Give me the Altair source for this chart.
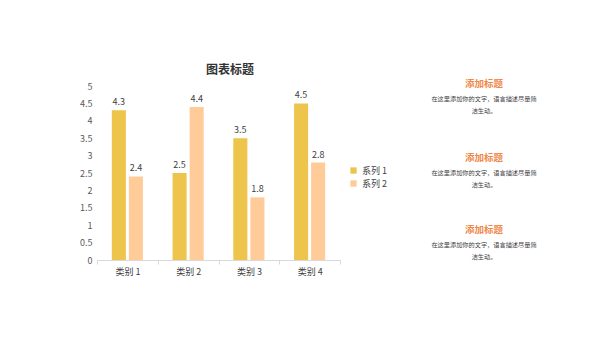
import altair as alt
import pandas as pd

categories = ["类别 1", "类别 2", "类别 3", "类别 4"]
series_names = ["系列 1", "系列 2"]
series1 = [4.3, 2.5, 3.5, 4.5]
series2 = [2.4, 4.4, 1.8, 2.8]
y_ticks = [0, 0.5, 1, 1.5, 2, 2.5, 3, 3.5, 4, 4.5, 5]
colors = ["#EDC54C", "#FFCC99"]
chart_title = "图表标题"
side_titles = ["添加标题", "添加标题", "添加标题"]
side_line1 = ["在这里添加你的文字，语言描述尽量简"] * 3
side_line2 = ["洁生动。"] * 3

rows = []
for c, a, b in zip(categories, series1, series2):
    rows.append({"cat": c, "series": series_names[0], "value": a})
    rows.append({"cat": c, "series": series_names[1], "value": b})
df = pd.DataFrame(rows)

FONT = "Noto Sans CJK SC"

x = alt.X("cat:N", sort=categories, title=None,
          scale=alt.Scale(paddingInner=0, paddingOuter=0),
          axis=alt.Axis(labelAngle=0, labelFontSize=9, labelColor="#404040",
                        domainColor="#D9D9D9", tickColor="#D9D9D9", tickSize=4,
                        tickBand="extent", labelPadding=3, labelFont=FONT))
xo = alt.XOffset("series:N", sort=series_names,
                 scale=alt.Scale(paddingInner=0.176, paddingOuter=0.868))
y = alt.Y("value:Q", title=None, scale=alt.Scale(domain=[0, 5], nice=False),
          axis=alt.Axis(values=y_ticks, labelExpr="datum.value",
                        labelOverlap=False, labelFlush=False,
                        domain=False, ticks=False, grid=False, labelFontSize=9,
                        labelColor="#595959", labelPadding=5, labelFont=FONT))

bars = alt.Chart(df).mark_bar().encode(
    x=x, xOffset=xo, y=y,
    color=alt.Color("series:N", sort=series_names,
                    scale=alt.Scale(domain=series_names, range=colors),
                    legend=alt.Legend(title=None, orient="none", legendX=252, legendY=80,
                                      symbolType="square", symbolSize=40,
                                      symbolStrokeWidth=0, labelFontSize=9,
                                      labelColor="#404040", labelFont=FONT,
                                      rowPadding=3)),
)

labels = alt.Chart(df).mark_text(dy=-8, fontSize=9, color="#404040", font=FONT).encode(
    x=x, xOffset=xo, y=y,
    text=alt.Text("value:Q", format=".1f"),
)

title_df = pd.DataFrame({"t": [chart_title]})
title = alt.Chart(title_df).mark_text(fontSize=12, fontWeight="bold", color="#333333",
                                      font=FONT).encode(
    x=alt.value(133), y=alt.value(-16), text="t:N")

side_y = [-2, 72, 144]
side_df = pd.DataFrame({"title": side_titles, "l1": side_line1, "l2": side_line2,
                        "yy": side_y})
st = alt.Chart(side_df).mark_text(fontSize=9.5, fontWeight="bold", color="#F0884A",
                                  font=FONT).encode(
    x=alt.value(387), y=alt.Y("yy:Q", scale=None, axis=None), text="title:N")
s1 = alt.Chart(side_df).mark_text(fontSize=6.2, color="#404040", font=FONT, dy=15).encode(
    x=alt.value(387), y=alt.Y("yy:Q", scale=None, axis=None), text="l1:N")
s2 = alt.Chart(side_df).mark_text(fontSize=6.2, color="#404040", font=FONT, dy=27).encode(
    x=alt.value(387), y=alt.Y("yy:Q", scale=None, axis=None), text="l2:N")

chart = alt.layer(bars, labels, title, st, s1, s2).properties(
    width=243, height=174, autosize="none",
    padding={"left": 97, "top": 86, "right": 260, "bottom": 78},
    background="white",
).configure_view(stroke=None)

chart.save("out.html", embed_options={"renderer": "svg", "actions": False})
